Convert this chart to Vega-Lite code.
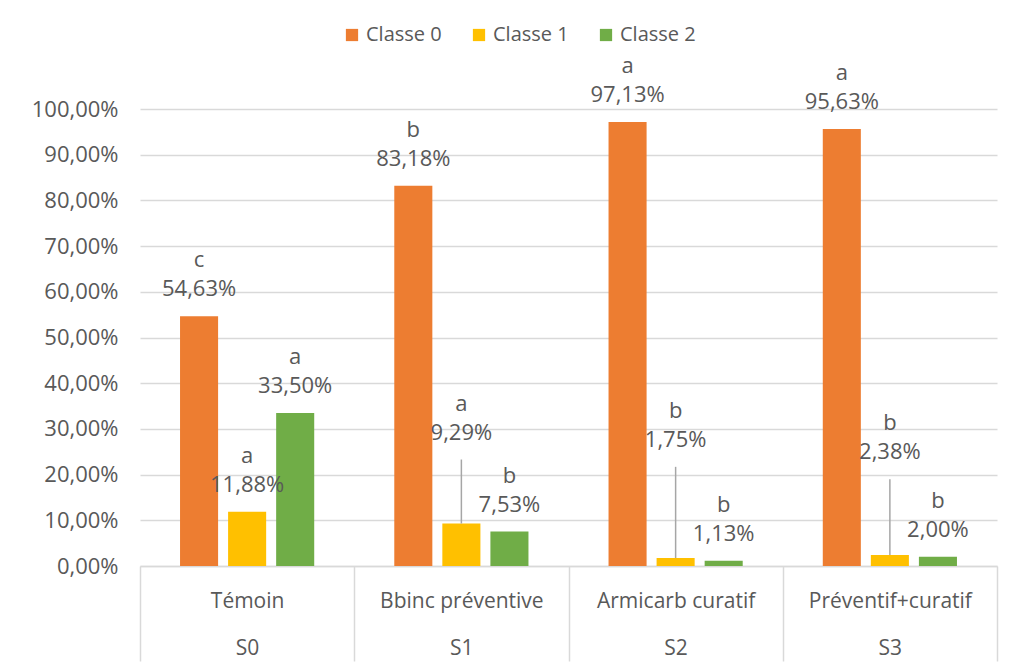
{
  "$schema": "https://vega.github.io/schema/vega-lite/v6.json",
  "autosize": {"type": "none"},
  "padding": {"left": 140, "top": 109, "right": 14, "bottom": 104},
  "width": 857,
  "height": 457,
  "background": "white",
  "config": {
    "view": {"stroke": null},
    "font": "Open Sans",
    "locale": {"number": {"decimal": ",", "thousands": "\u00a0", "grouping": [3], "currency": ["", " €"], "percent": "%"}}
  },
  "data": {
    "values": [
      {"group": "Témoin|S0", "cls": "Classe 0", "value": 0.5463, "letter": "c", "labelAt": 0.5463},
      {"group": "Témoin|S0", "cls": "Classe 1", "value": 0.1188, "letter": "a", "labelAt": 0.1188},
      {"group": "Témoin|S0", "cls": "Classe 2", "value": 0.3350, "letter": "a", "labelAt": 0.3350},
      {"group": "Bbinc préventive|S1", "cls": "Classe 0", "value": 0.8318, "letter": "b", "labelAt": 0.8318},
      {"group": "Bbinc préventive|S1", "cls": "Classe 1", "value": 0.0929, "letter": "a", "labelAt": 0.233},
      {"group": "Bbinc préventive|S1", "cls": "Classe 2", "value": 0.0753, "letter": "b", "labelAt": 0.0753},
      {"group": "Armicarb curatif|S2", "cls": "Classe 0", "value": 0.9713, "letter": "a", "labelAt": 0.9713},
      {"group": "Armicarb curatif|S2", "cls": "Classe 1", "value": 0.0175, "letter": "b", "labelAt": 0.217},
      {"group": "Armicarb curatif|S2", "cls": "Classe 2", "value": 0.0113, "letter": "b", "labelAt": 0.0113},
      {"group": "Préventif+curatif|S3", "cls": "Classe 0", "value": 0.9563, "letter": "a", "labelAt": 0.9563},
      {"group": "Préventif+curatif|S3", "cls": "Classe 1", "value": 0.0238, "letter": "b", "labelAt": 0.19},
      {"group": "Préventif+curatif|S3", "cls": "Classe 2", "value": 0.0200, "letter": "b", "labelAt": 0.0200}
    ]
  },
  "encoding": {
    "x": {
      "field": "group", "type": "nominal", "sort": null, "title": null,
      "scale": {"paddingInner": 0, "paddingOuter": 0},
      "axis": {
        "labelAngle": 0,
        "labelExpr": "datum.value ? split(datum.value, '|') : ''",
        "labelLineHeight": 47,
        "labelFontSize": 21,
        "labelColor": "#595959",
        "labelPadding": -71,
        "ticks": true,
        "tickBand": "extent",
        "tickSize": 95,
        "tickColor": "#d9d9d9",
        "tickWidth": 1.5,
        "domainColor": "#d9d9d9",
        "domainWidth": 1.5,
        "grid": false
      }
    },
    "xOffset": {
      "field": "cls", "type": "nominal", "sort": ["Classe 0", "Classe 1", "Classe 2"],
      "scale": {"paddingInner": 0.208, "paddingOuter": 0.833}
    }
  },
  "layer": [
    {
      "mark": {"type": "bar"},
      "encoding": {
        "y": {
          "field": "value", "type": "quantitative", "title": null,
          "scale": {"domain": [0, 1], "nice": false},
          "axis": {
            "values": [0, 0.1, 0.2, 0.3, 0.4, 0.5, 0.6, 0.7, 0.8, 0.9, 1.0],
            "format": ".2%",
            "domain": false,
            "ticks": false,
            "labelPadding": 22,
            "labelFontSize": 22,
            "labelColor": "#595959",
            "gridColor": "#d9d9d9",
            "gridWidth": 1.5
          }
        },
        "color": {
          "field": "cls", "type": "nominal", "title": null,
          "scale": {"domain": ["Classe 0", "Classe 1", "Classe 2"], "range": ["#ED7D31", "#FFC000", "#70AD47"]},
          "legend": {
            "orient": "none",
            "direction": "horizontal",
            "legendX": 202,
            "legendY": -84,
            "symbolType": "square",
            "symbolSize": 150,
            "symbolStrokeWidth": 0,
            "labelFontSize": 20,
            "labelColor": "#595959",
            "labelOffset": 4,
            "columnPadding": 27
          }
        }
      }
    },
    {
      "transform": [{"filter": "datum.labelAt != datum.value"}],
      "mark": {"type": "rule", "color": "#a6a6a6", "strokeWidth": 1.5},
      "encoding": {
        "y": {"field": "labelAt", "type": "quantitative"},
        "y2": {"field": "value"}
      }
    },
    {
      "mark": {"type": "text", "baseline": "middle", "dy": -27, "fontSize": 22, "color": "#595959"},
      "encoding": {
        "y": {"field": "labelAt", "type": "quantitative"},
        "text": {"field": "value", "type": "quantitative", "format": ".2%"}
      }
    },
    {
      "mark": {"type": "text", "baseline": "middle", "dy": -56, "fontSize": 22, "color": "#595959"},
      "encoding": {
        "y": {"field": "labelAt", "type": "quantitative"},
        "text": {"field": "letter", "type": "nominal"}
      }
    }
  ]
}
